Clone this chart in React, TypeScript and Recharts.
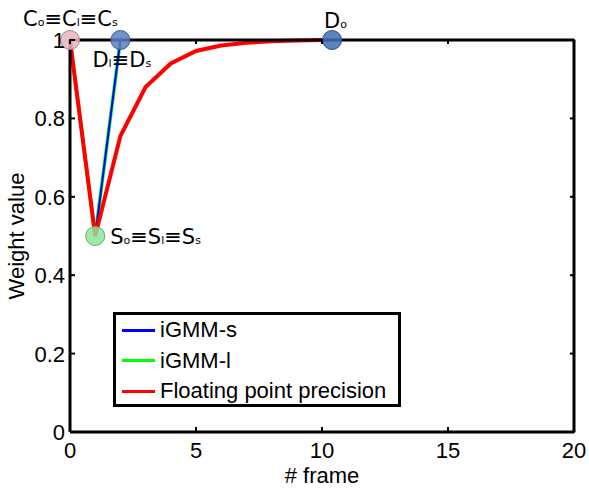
import { Legend, Line, LineChart, ReferenceDot, XAxis, YAxis } from 'recharts';

// frame index and weight value of each curve
const frames = [0, 1, 2, 3, 4, 5, 6, 7, 8, 9, 10];
const floatingPrecision = [1, 0.5, 0.755, 0.88, 0.94, 0.972, 0.986, 0.993, 0.997, 0.999, 1];
const igmmS = [1, 0.5, 1];
const igmmL = [1, 0.5, 1];

const xTicks = [0, 5, 10, 15, 20];
const yTicks = [0, 0.2, 0.4, 0.6, 0.8, 1];

// annotated points: [main, sub] pairs joined by ≡
const pointIds = ['C', 'S', 'Dls', 'Do'];
const pointX = [0, 1, 2, 10.4];
const pointY = [1, 0.5, 1, 1];
const pointLabels: [string, string][][] = [
  [['C', 'o'], ['C', 'l'], ['C', 's']],
  [['S', 'o'], ['S', 'l'], ['S', 's']],
  [['D', 'l'], ['D', 's']],
  [['D', 'o']]
];

const seriesNames = ['iGMM-s', 'iGMM-l', 'Floating point precision'];

const W = 589;
const H = 488;
const MARGIN = { top: 39, right: 14, bottom: 55, left: 69 };
const AXIS = 1; // thickness reserved by each axis
const PLOT_W = W - MARGIN.left - MARGIN.right - 2 * AXIS;
const PLOT_H = H - MARGIN.top - MARGIN.bottom - 2 * AXIS;

const FONT = "'Liberation Sans', Arial, Helvetica, sans-serif";
const NOTE_FONT = "'DejaVu Sans', Verdana, sans-serif";
const COLORS = { s: '#0000ff', l: '#00ff00', fp: '#ff0000' };
const DOT_STYLE: Record<string, { fill: string; stroke: string; dx: number; dy: number }> = {
  C: { fill: '#e9b4c0', stroke: '#a9808a', dx: -47, dy: -14 },
  S: { fill: '#8fe59b', stroke: '#6aa872', dx: 15, dy: 8 },
  Dls: { fill: '#5a7fc0', stroke: '#3c5a8c', dx: -28, dy: 27 },
  Do: { fill: '#3f6db5', stroke: '#2c4c80', dx: -8, dy: -12 }
};

const rows = frames.map((f, i) => ({
  frame: f,
  fp: floatingPrecision[i],
  s: igmmS[i],
  l: igmmL[i]
}));

// MATLAB-style inward ticks, mirrored onto the top / right edge of the box
function BottomTick({ x, y, payload }: any) {
  const top = y - PLOT_H - AXIS;
  return (
    <g>
      <line x1={x} x2={x} y1={y} y2={y - 5} stroke='#000' strokeWidth={2} />
      <line x1={x} x2={x} y1={top} y2={top + 5} stroke='#000' strokeWidth={2} />
      <text x={x} y={y + 26} textAnchor='middle' fontSize={22} fontFamily={FONT} fill='#000'>
        {payload.value}
      </text>
    </g>
  );
}
function LeftTick({ x, y, payload }: any) {
  const right = x + PLOT_W + AXIS;
  return (
    <g>
      <line x1={x} x2={x + 5} y1={y} y2={y} stroke='#000' strokeWidth={2} />
      <line x1={right} x2={right - 5} y1={y} y2={y} stroke='#000' strokeWidth={2} />
      <text x={x - 5} y={y + 8} textAnchor='end' fontSize={22} fontFamily={FONT} fill='#000'>
        {payload.value}
      </text>
    </g>
  );
}

function makeDotLabel(parts: [string, string][], dx: number, dy: number) {
  return (props: any) => {
    const vb = props.viewBox;
    const cx = vb.x + vb.width / 2;
    const cy = vb.y + vb.height / 2;
    return (
      <text x={cx + dx} y={cy + dy} fontFamily={NOTE_FONT} fill='#000'>
        {parts.map(([main, sub], i) => (
          <tspan key={i}>
            <tspan fontSize={21}>{(i > 0 ? '≡' : '') + main}</tspan>
            <tspan fontSize={11}>{sub}</tspan>
          </tspan>
        ))}
      </text>
    );
  };
}

function LegendBox() {
  const colors = [COLORS.s, COLORS.l, COLORS.fp];
  return (
    <div
      style={{
        boxSizing: 'border-box',
        width: 288,
        height: 95,
        border: '3px solid #000',
        background: '#fff',
        fontFamily: FONT,
        fontSize: 22
      }}
    >
      {seriesNames.map((name, i) => (
        <div key={name} style={{ display: 'flex', alignItems: 'center', height: 30.5, lineHeight: '30px' }}>
          <span style={{ display: 'inline-block', width: 33, height: 3, background: colors[i], marginLeft: 6, marginRight: 5 }} />
          <span>{name}</span>
        </div>
      ))}
    </div>
  );
}

const axisLine = { stroke: '#000', strokeWidth: 3 };

export default function App() {
  return (
    <div style={{ position: 'absolute', left: 0, top: 0, width: W, height: H, background: '#fff' }}>
      <LineChart width={W} height={H} data={rows} margin={MARGIN}>
        <XAxis
          dataKey='frame'
          type='number'
          domain={[0, 20]}
          ticks={xTicks}
          height={AXIS}
          tickSize={0}
          tickMargin={0}
          tickLine={false}
          tick={<BottomTick />}
          axisLine={axisLine}
          label={{
            content: (p: any) => (
              <text
                x={p.viewBox.x + p.viewBox.width / 2}
                y={p.viewBox.y + 51}
                textAnchor='middle'
                fontSize={22}
                fontFamily={FONT}
              >
                # frame
              </text>
            )
          }}
        />
        <XAxis
          xAxisId='top'
          orientation='top'
          type='number'
          domain={[0, 20]}
          height={AXIS}
          tick={false}
          tickLine={false}
          axisLine={axisLine}
        />
        <YAxis
          type='number'
          domain={[0, 1]}
          ticks={yTicks}
          width={AXIS}
          tickSize={0}
          tickMargin={0}
          tickLine={false}
          tick={<LeftTick />}
          axisLine={axisLine}
          label={{
            content: (p: any) => {
              const cx = p.viewBox.x + p.viewBox.width - 54;
              const cy = p.viewBox.y + p.viewBox.height / 2;
              return (
                <text
                  x={cx}
                  y={cy}
                  transform={`rotate(-90 ${cx} ${cy})`}
                  textAnchor='middle'
                  dominantBaseline='central'
                  fontSize={22}
                  fontFamily={FONT}
                >
                  Weight value
                </text>
              );
            }
          }}
        />
        <YAxis
          yAxisId='right'
          orientation='right'
          type='number'
          domain={[0, 1]}
          width={AXIS}
          tick={false}
          tickLine={false}
          axisLine={axisLine}
        />
        <Line dataKey='l' stroke={COLORS.l} strokeWidth={3.5} dot={false} isAnimationActive={false} type='linear' />
        <Line dataKey='s' stroke={COLORS.s} strokeWidth={2} dot={false} isAnimationActive={false} type='linear' />
        <Line dataKey='fp' stroke={COLORS.fp} strokeWidth={4} dot={false} isAnimationActive={false} type='linear' />
        {pointIds.map((id, i) => (
          <ReferenceDot
            key={id}
            x={pointX[i]}
            y={pointY[i]}
            r={9.5}
            fill={DOT_STYLE[id].fill}
            fillOpacity={0.85}
            stroke={DOT_STYLE[id].stroke}
            strokeWidth={1}
            label={{ content: makeDotLabel(pointLabels[i], DOT_STYLE[id].dx, DOT_STYLE[id].dy) }}
          />
        ))}
        <Legend
          layout='horizontal'
          verticalAlign='middle'
          align='center'
          wrapperStyle={{ position: 'absolute', left: 113, top: 312, width: 288, height: 95 }}
          content={() => <LegendBox />}
        />
      </LineChart>
    </div>
  );
}
